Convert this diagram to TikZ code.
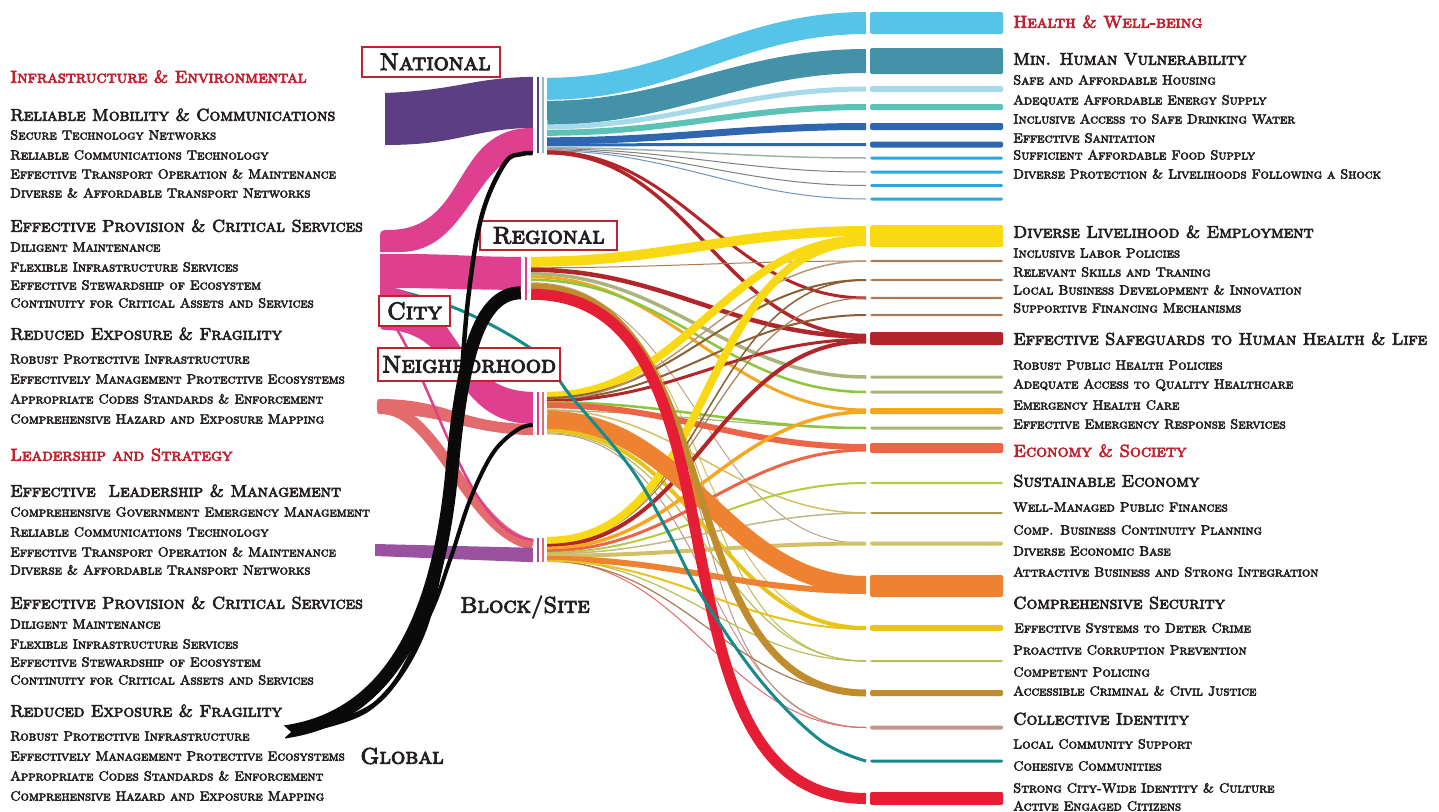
\documentclass[tikz,border=0pt]{standalone}
\usepackage{fontspec}
\usetikzlibrary{calc}
\newfontfamily\scf{lmromancaps10-regular}[Extension=.otf,FakeBold=4]
\definecolor{ink}{HTML}{231F20}
\definecolor{hd}{HTML}{C1202F}
\definecolor{purp}{HTML}{5B3F82}
\definecolor{pink}{HTML}{DE3F8F}
\definecolor{salm}{HTML}{E36B6B}
\definecolor{viol}{HTML}{9A52A0}
\definecolor{lb}{HTML}{55C4E8}
\definecolor{tl}{HTML}{4392A8}
\definecolor{pb}{HTML}{A6DAEA}
\definecolor{tg}{HTML}{5DC2B6}
\definecolor{bl}{HTML}{2F66B0}
\definecolor{lbb}{HTML}{29A9E1}
\definecolor{gry}{HTML}{9FB3AA}
\definecolor{yel}{HTML}{F8D913}
\definecolor{brn}{HTML}{A97C55}
\definecolor{dbrn}{HTML}{8B5E34}
\definecolor{dred}{HTML}{B2252A}
\definecolor{sage}{HTML}{A8B47A}
\definecolor{org}{HTML}{F5A623}
\definecolor{lime}{HTML}{8CC63F}
\definecolor{coral}{HTML}{EE6446}
\definecolor{limeb}{HTML}{B5CC3D}
\definecolor{olv}{HTML}{A89A4C}
\definecolor{khk}{HTML}{D3C063}
\definecolor{orgb}{HTML}{EF8230}
\definecolor{yelb}{HTML}{E8C41A}
\definecolor{olg}{HTML}{B8BF55}
\definecolor{ochre}{HTML}{C08C2E}
\definecolor{tan}{HTML}{C4958A}
\definecolor{teal}{HTML}{168B8D}
\definecolor{red}{HTML}{E51E36}
\definecolor{blk}{HTML}{0A0A0A}
% flow: colour, width, source node, offset below its top, target bar, offset from its centre
\newcommand\fl[6]{\draw[line width=#2pt,draw=#1] ($(#3.north east)+(0,#4)$) to[out=0,in=180] ($(#5.west)+(-4,#6)$);}
\begin{document}
\begin{tikzpicture}[x=1pt,y=-1pt,
  rbar/.style={rectangle,rounded corners=1.5pt,minimum width=133pt,inner sep=0pt,anchor=west},
  src/.style={rectangle,inner sep=0pt,minimum width=14pt,draw=none},
  seam/.style={line width=1.2pt},
  cat/.style={anchor=base west,inner sep=0pt,yshift=-5.7pt,text=hd,font=\scf\fontsize{17.2}{19}\selectfont},
  big/.style={anchor=base west,inner sep=0pt,yshift=-5.7pt,text=ink,font=\scf\fontsize{17}{19}\selectfont},
  sub/.style={anchor=base west,inner sep=0pt,yshift=-4.5pt,text=ink,font=\scf\fontsize{13.2}{15}\selectfont},
  lvl/.style={text=ink,inner sep=0pt,font=\scf\fontsize{22.5}{24}\selectfont},
  lvbox/.style={text=ink,inner sep=0pt,font=\scf\fontsize{24}{26}\selectfont,draw=hd,line width=1.4pt,fill=white}]
\useasboundingbox (0,0) rectangle (1439,811);
\fill[white] (0,0) rectangle (1439,811);

% ---------- level nodes (seams between incoming and outgoing flows)
\node[src,minimum height=76pt] (nat) at (540,115) {};
\node[src,minimum width=10pt,minimum height=43pt] (reg) at (526,278.5) {};
\node[src,minimum height=43pt] (nbh) at (540,413.5) {};
\node[src,minimum height=24pt] (blk) at (540,550) {};

% ---------- outcome bars
\node[rbar,fill=lb,minimum height=22pt] (hw) at (870,23) {};
\node[rbar,fill=tl,minimum height=26pt] (mhv) at (870,61) {};
\node[rbar,fill=pb,minimum height=6pt] (b3) at (870,89) {};
\node[rbar,fill=tg,minimum height=6pt] (b4) at (870,107) {};
\node[rbar,fill=bl,minimum height=7pt] (b5) at (870,126.5) {};
\node[rbar,fill=bl,minimum height=6pt] (b6) at (870,144.5) {};
\node[rbar,fill=lbb,minimum height=3pt] (b7) at (870,158) {};
\node[rbar,fill=lbb,minimum height=3pt] (b8) at (870,172) {};
\node[rbar,fill=lbb,minimum height=3pt] (b9) at (870,185.5) {};
\node[rbar,fill=lbb,minimum height=3pt] (b10) at (870,199) {};
\node[rbar,fill=yel,minimum height=22pt] (dle) at (870,236) {};
\node[rbar,fill=brn,minimum height=2.2pt] (b12) at (870,261) {};
\node[rbar,fill=brn,minimum height=2.2pt] (b13) at (870,280) {};
\node[rbar,fill=brn,minimum height=2.2pt] (b14) at (870,298) {};
\node[rbar,fill=brn,minimum height=2.2pt] (b15) at (870,315) {};
\node[rbar,fill=dred,minimum height=13pt] (esh) at (870,338.5) {};
\node[rbar,fill=sage,minimum height=3pt] (b17) at (870,377) {};
\node[rbar,fill=sage,minimum height=3pt] (b18) at (870,392) {};
\node[rbar,fill=org,minimum height=6pt] (b19) at (870,411) {};
\node[rbar,fill=sage,minimum height=3pt] (b20) at (870,428) {};
\node[rbar,fill=coral,minimum height=10pt] (eco) at (870,448) {};
\node[rbar,fill=limeb,minimum height=2.2pt] (b22) at (870,483) {};
\node[rbar,fill=olv,minimum height=2pt] (b23) at (870,513) {};
\node[rbar,fill=khk,minimum height=4pt] (b24) at (870,543.5) {};
\node[rbar,fill=orgb,minimum height=22pt] (att) at (870,586) {};
\node[rbar,fill=yelb,minimum height=6pt] (b26) at (870,628) {};
\node[rbar,fill=olg,minimum height=2pt] (b27) at (870,661) {};
\node[rbar,fill=ochre,minimum height=6pt] (b28) at (870,693) {};
\node[rbar,fill=tan,minimum height=4pt] (b29) at (870,727.5) {};
\node[rbar,fill=teal,minimum height=3pt] (b30) at (870,761) {};
\node[rbar,fill=red,minimum height=13pt] (sci) at (870,798.5) {};

% ---------- flows out of National
\fl{lb}{22}{nat}{12}{hw}{0}
\fl{tl}{24}{nat}{36}{mhv}{0}
\fl{pb}{5}{nat}{50}{b3}{0}
\fl{tg}{6}{nat}{56}{b4}{0}
\fl{bl}{7}{nat}{64}{b5}{0}
\fl{bl}{3}{nat}{68}{b6}{0}
\fl{gry}{1.5}{nat}{71}{b7}{0}
\fl{gray}{1}{nat}{72}{b8}{0}
\fl{gray}{1}{nat}{73}{b9}{0}
\fl{bl!70}{1}{nat}{74}{b10}{0}
\fl{dred}{3}{nat}{75}{b14}{0}
\fl{dred}{3.5}{nat}{76}{esh}{-3}

% ---------- flows out of Regional (thin ones first)
\fl{tan}{1}{reg}{26}{b29}{0}
\fl{olg}{1}{reg}{27}{b27}{0}
\fl{brn!70}{1}{reg}{28}{b24}{0}
\fl{khk}{1}{reg}{27}{b26}{0}
\fl{yel}{10}{reg}{5}{dle}{-5}
\fl{brn}{1}{reg}{11}{b12}{0}
\fl{dred}{4.5}{reg}{13}{esh}{-2}
\fl{sage}{3.5}{reg}{17}{b17}{0}
\fl{org}{3}{reg}{20}{b19}{-1}
\fl{lime}{2.5}{reg}{23}{b18}{0}

% ---------- flows out of Neighborhood
\fl{tan}{1}{nbh}{42}{b29}{0}
\fl{olg}{1.2}{nbh}{41}{b27}{0}
\fl{khk}{1.5}{nbh}{18}{b23}{0}
\fl{sage}{1.2}{nbh}{19}{b20}{0}
\fl{yel}{8}{nbh}{4}{dle}{3}
\fl{dbrn}{2}{nbh}{6}{b13}{0}
\fl{dbrn}{2}{nbh}{7.5}{b15}{0}
\fl{brn!80}{1.5}{nbh}{8}{b12}{0}
\fl{dred}{3}{nbh}{9}{esh}{1}
\fl{lime}{2.5}{nbh}{10.5}{b20}{0}
\fl{coral}{6}{nbh}{13.5}{eco}{-1}
\fl{yelb}{4}{nbh}{38.5}{b26}{0}

% ---------- flows out of Block/Site
\fl{olg}{1.2}{blk}{22}{b27}{0}
\fl{salm}{1}{blk}{23}{b29}{0}
\fl{brn}{1.2}{blk}{23.5}{b28}{0}
\fl{dbrn}{1.5}{blk}{5}{b13}{0}
\fl{brn}{1.2}{blk}{6}{b14}{0}
\fl{yel}{8}{blk}{3}{dle}{6}
\fl{dred}{4}{blk}{8}{esh}{3}
\fl{org}{3.5}{blk}{10.5}{b19}{1}
\fl{coral}{3}{blk}{13}{eco}{2}
\fl{limeb}{2}{blk}{15}{b22}{0}
\fl{olv!70}{1.5}{blk}{16}{b23}{0}
\fl{khk}{4}{blk}{18}{b24}{0}
\fl{orgb}{6}{blk}{21}{att}{5}
\fl{yelb}{2}{blk}{23}{b26}{1}

% the broad bands run above the fan
\fl{orgb}{18}{nbh}{28}{att}{-1}
\fl{ochre}{7}{reg}{30}{b28}{0}
\fl{red}{11}{reg}{37.5}{sci}{0}

% ---------- cohesive communities thread from the city side
\draw[teal,line width=3pt] plot[smooth,tension=0.6] coordinates {(380,286) (460,310) (537,353) (570,395) (630,467) (667,530) (700,593) (760,680) (820,740) (866,761)};

% ---------- incoming bands on the left
\fill[purp] (385,93) .. controls (460,90) and (470,78) .. (nat.north west) -- ([yshift=-51pt]nat.north west) .. controls (470,129) and (460,145) .. (385,145) -- cycle;
\fill[pink] (380,236) .. controls (380,231) and (382,230) .. (388,230) .. controls (470,230) and (450,128) .. ([yshift=-51pt]nat.north west) -- (nat.south west) .. controls (475,153) and (470,252) .. (400,252) -- (380,252) -- cycle;
\fill[pink] (380,254) -- (400,254) .. controls (460,254) and (470,257) .. (reg.north west) -- ([yshift=-33pt]reg.north west) .. controls (470,290) and (450,288) .. (380,288) -- cycle;
\fill[pink] (380,287) .. controls (460,287) and (450,392) .. (nbh.north west) -- ([yshift=-32pt]nbh.north west) .. controls (450,424) and (460,330) .. (385,330) .. controls (381,330) and (380,328) .. (380,325) -- cycle;
\fill[salm] (379,399) .. controls (450,399) and (460,424) .. ([yshift=-32pt]nbh.north west) -- (nbh.south west) .. controls (460,433) and (450,414) .. (379,414) .. controls (376,414) and (376,399) .. (379,399) -- cycle;
\draw[salm,line width=11pt] (386,409) .. controls (440,415) and (470,532) .. ([yshift=-7pt]blk.north west);
\draw[pink,line width=2.5pt] (395,326) .. controls (440,400) and (470,535) .. ([yshift=-2pt]blk.north west);
\fill[viol] (375,544) -- ([yshift=-10pt]blk.north west) -- (blk.south west) -- (375,556) -- cycle;

% seams of the level nodes
\draw[seam,purp] ([xshift=-2pt]nat.north) -- ([xshift=-2pt]nat.south);
\draw[seam,tl!60] ([xshift=3pt]nat.north) -- ([xshift=3pt]nat.south);
\draw[seam,pink] (reg.north) -- (reg.south);
\draw[seam,pink] ([xshift=-2pt]nbh.north) -- ([xshift=-2pt]nbh.south);
\draw[seam,salm] ([xshift=3pt]nbh.north) -- ([xshift=3pt]nbh.south);
\draw[seam,viol] ([xshift=-2pt]blk.north) -- ([xshift=-2pt]blk.south);
\draw[seam,salm] ([xshift=3pt]blk.north) -- ([xshift=3pt]blk.south);

% ---------- level labels
\node[lvbox,minimum width=138pt,minimum height=30pt] (lnat) at (431,62) {\hspace*{8pt}National};
\node[lvbox,minimum width=137pt,minimum height=29pt] (lreg) at (548.5,235.5) {Regional};
\node[lvbox,minimum width=71pt,minimum height=30pt] (lcity) at (414.5,311) {City};
\node[lvbox,minimum width=182pt,minimum height=33pt] (lnbh) at (469,364.5) {Neighborhood};
\node[lvl] (lblk) at (525,607) {Block/Site};
\node[lvl] (lglob) at (402,756) {Global};

% ---------- global flows
\draw[blk,line width=4.5pt] plot[smooth,tension=0.6] coordinates {(300,731) (370,708) (420,640) (445,540) (458,420) (468,300) (482,215) (505,163) (522,154) (nat.south west)};
\draw[blk,line width=4pt] plot[smooth,tension=0.6] coordinates {(300,733) (380,700) (427,620) (450,560) (470,500) (493,453) (517,430) ([yshift=-33pt]nbh.north west)};
\draw[blk,line width=13pt] (284,732) .. controls (400,716) and (440,600) .. (452,470) .. controls (462,360) and (478,293) .. ([yshift=-36pt]reg.north west);
\fill[white] (282,724) -- (291,732) -- (282,740) -- cycle;

% ---------- left column
\node[cat] (a1) at (10,77) {Infrastructure \& Environmental};
\node[big] (a2) at (10,115) {Reliable Mobility \& Communications};
\node[sub] (a3) at (10,135) {Secure Technology Networks};
\node[sub] (a4) at (10,155) {Reliable Communications Technology};
\node[sub] (a5) at (10,174) {Effective Transport Operation \& Maintenance};
\node[sub] (a6) at (10,193) {Diverse \& Affordable Transport Networks};
\node[big] (a7) at (10,226) {Effective Provision \& Critical Services};
\node[sub] (a8) at (10,247) {Diligent Maintenance};
\node[sub] (a9) at (10,267) {Flexible Infrastructure Services};
\node[sub] (a10) at (10,285) {Effective Stewardship of Ecosystem};
\node[sub] (a11) at (10,303) {Continuity for Critical Assets and Services};
\node[big] (a12) at (10,334) {Reduced Exposure \& Fragility};
\node[sub] (a13) at (10,359) {Robust Protective Infrastructure};
\node[sub] (a14) at (10,379) {Effectively Management Protective Ecosystems};
\node[sub] (a15) at (10,399) {Appropriate Codes Standards \& Enforcement};
\node[sub] (a16) at (10,419) {Comprehensive Hazard and Exposure Mapping};
\node[cat] (a17) at (10,455) {Leadership and Strategy};
\node[big] (a18) at (10,491) {Effective\ \ Leadership \& Management};
\node[sub] (a19) at (10,512) {Comprehensive Government Emergency Management};
\node[sub] (a20) at (10,532) {Reliable Communications Technology};
\node[sub] (a21) at (10,552) {Effective Transport Operation \& Maintenance};
\node[sub] (a22) at (10,570) {Diverse \& Affordable Transport Networks};
\node[big] (a23) at (10,603) {Effective Provision \& Critical Services};
\node[sub] (a24) at (10,624) {Diligent Maintenance};
\node[sub] (a25) at (10,644) {Flexible Infrastructure Services};
\node[sub] (a26) at (10,662) {Effective Stewardship of Ecosystem};
\node[sub] (a27) at (10,680) {Continuity for Critical Assets and Services};
\node[big] (a28) at (10,711) {Reduced Exposure \& Fragility};
\node[sub] (a29) at (10,736) {Robust Protective Infrastructure};
\node[sub] (a30) at (10,756) {Effectively Management Protective Ecosystems};
\node[sub] (a31) at (10,776) {Appropriate Codes Standards \& Enforcement};
\node[sub] (a32) at (10,796) {Comprehensive Hazard and Exposure Mapping};

% ---------- right column
\node[cat] (r1) at (1013,22) {Health \& Well-being};
\node[big] (r2) at (1013,59) {Min. Human Vulnerability};
\node[sub] (r3) at (1013,80) {Safe and Affordable Housing};
\node[sub] (r4) at (1013,100) {Adequate Affordable Energy Supply};
\node[sub] (r5) at (1013,119) {Inclusive Access to Safe Drinking Water};
\node[sub] (r6) at (1013,138) {Effective Sanitation};
\node[sub] (r7) at (1013,155) {Sufficient Affordable Food Supply};
\node[sub] (r8) at (1013,174) {Diverse Protection \& Livelihoods Following a Shock};
\node[big] (r9) at (1013,232) {Diverse Livelihood \& Employment};
\node[sub] (r10) at (1013,253) {Inclusive Labor Policies};
\node[sub] (r11) at (1013,272) {Relevant Skills and Traning};
\node[sub] (r12) at (1013,290) {Local Business Development \& Innovation};
\node[sub] (r13) at (1013,308) {Supportive Financing Mechanisms};
\node[big] (r14) at (1013,339) {Effective Safeguards to Human Health \& Life};
\node[sub] (r15) at (1013,365) {Robust Public Health Policies};
\node[sub] (r16) at (1013,384) {Adequate Access to Quality Healthcare};
\node[sub] (r17) at (1013,405) {Emergency Health Care};
\node[sub] (r18) at (1013,424) {Effective Emergency Response Services};
\node[cat] (r19) at (1013,451) {Economy \& Society};
\node[big] (r20) at (1013,481) {Sustainable Economy};
\node[sub] (r21) at (1013,507) {Well-Managed Public Finances};
\node[sub] (r22) at (1013,530) {Comp. Business Continuity Planning};
\node[sub] (r23) at (1013,551) {Diverse Economic Base};
\node[sub] (r24) at (1013,572) {Attractive Business and Strong Integration};
\node[big] (r25) at (1013,603) {Comprehensive Security};
\node[sub] (r26) at (1014,628) {Effective Systems to Deter Crime};
\node[sub] (r27) at (1013,650) {Proactive Corruption Prevention};
\node[sub] (r28) at (1013,672) {Competent Policing};
\node[sub] (r29) at (1013,691) {Accessible Criminal \& Civil Justice};
\node[big] (r30) at (1013,719) {Collective Identity};
\node[sub] (r31) at (1013,744) {Local Community Support};
\node[sub] (r32) at (1013,766) {Cohesive Communities};
\node[sub] (r33) at (1013,788) {Strong City-Wide Identity \& Culture};
\node[sub] (r34) at (1013,806) {Active Engaged Citizens};
\end{tikzpicture}
\end{document}
